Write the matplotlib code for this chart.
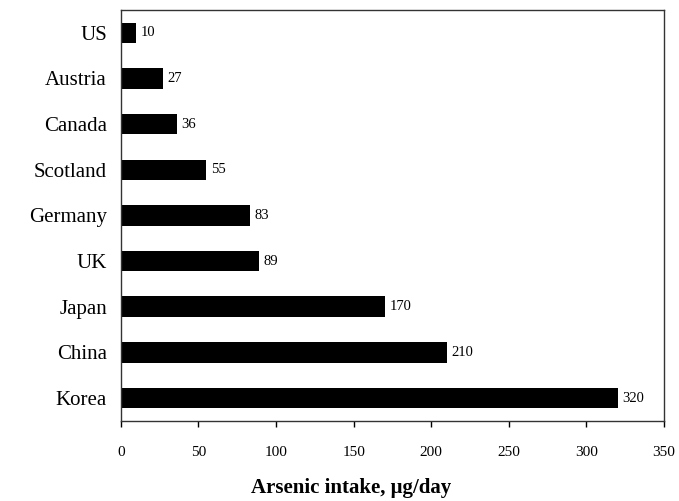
import matplotlib.pyplot as plt

paises = ['US', 'Austria', 'Canada', 'Scotland', 'Germany', 'UK', 'Japan', 'China', 'Korea']
ingesta = [10, 27, 36, 55, 83, 89, 170, 210, 320]

plt.rcParams['font.family'] = ['Liberation Serif', 'DejaVu Serif']

fig = plt.figure(figsize=(6.79, 5.01), dpi=100)
ax = fig.add_axes([0.178, 0.160, 0.800, 0.820])

pos = range(len(paises))
ax.barh(pos, ingesta, height=0.45, color='black')
ax.set_yticks(list(pos))
ax.set_yticklabels(paises, fontsize=15)
ax.set_ylim(len(paises) - 0.5, -0.5)
ax.set_xlim(0, 350)
ax.set_xticks(range(0, 351, 50))
ax.tick_params(axis='x', direction='out', length=4, width=1, labelsize=11, pad=14)
ax.tick_params(axis='y', length=0, pad=10)

for s in ax.spines.values():
    s.set_linewidth(1)
    s.set_color('#333333')

for i, v in enumerate(ingesta):
    ax.text(v + 3, i, f'{v}', va='center', ha='left', fontsize=10.5)

fig.text(0.517, 0.026, 'Arsenic intake, μg/day', fontsize=15, fontweight='bold',
         ha='center', va='center')

fig.savefig('out.png', dpi=100)
